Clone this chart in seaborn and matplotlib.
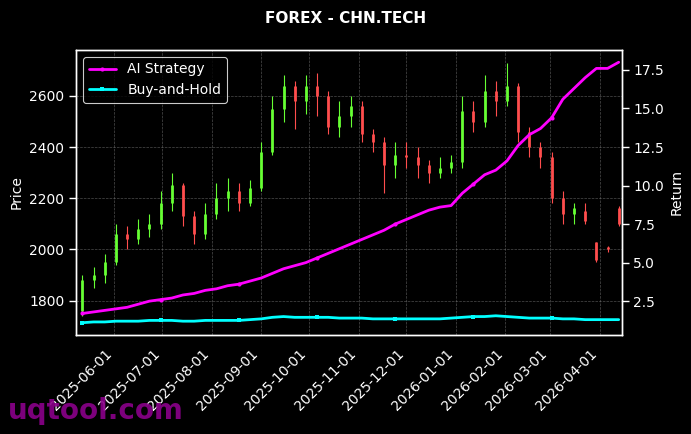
import numpy as np
import pandas as pd
import seaborn as sns
import matplotlib
matplotlib.use("Agg")
import matplotlib.pyplot as plt
import matplotlib.dates as mdates

# weekly OHLC
weeks = pd.date_range("2025-05-12", "2026-04-13", freq="7D")
opens = [1760, 1880, 1900, 1950, 2060, 2040, 2080, 2100, 2180, 2250, 2130, 2060, 2140, 2200, 2230, 2180,
         2240, 2380, 2550, 2640, 2580, 2640, 2600, 2480, 2520, 2560, 2450, 2420, 2330, 2370, 2360, 2330,
         2300, 2320, 2340, 2540, 2500, 2620, 2580, 2640, 2460, 2400, 2360, 2200, 2140, 2150, 2030, 2010, 2160]
closes = [1880, 1900, 1950, 2060, 2040, 2080, 2100, 2180, 2250, 2130, 2060, 2140, 2200, 2230, 2180, 2240,
          2380, 2550, 2640, 2580, 2640, 2600, 2480, 2520, 2560, 2450, 2420, 2330, 2370, 2360, 2330, 2300,
          2320, 2340, 2540, 2500, 2620, 2580, 2640, 2460, 2400, 2360, 2200, 2140, 2160, 2110, 1960, 2000, 2100]
highs = [1900, 1930, 1980, 2100, 2090, 2120, 2140, 2230, 2300, 2260, 2150, 2180, 2260, 2280, 2260, 2270,
         2420, 2600, 2680, 2660, 2680, 2690, 2620, 2580, 2600, 2580, 2470, 2440, 2420, 2420, 2400, 2350,
         2360, 2370, 2600, 2580, 2680, 2660, 2730, 2650, 2480, 2420, 2380, 2230, 2180, 2180, 2030, 2015, 2170]
lows = [1740, 1850, 1870, 1940, 2000, 2020, 2050, 2080, 2150, 2090, 2020, 2040, 2120, 2150, 2150, 2170,
        2230, 2370, 2500, 2470, 2530, 2520, 2450, 2440, 2480, 2420, 2380, 2220, 2280, 2320, 2280, 2260,
        2280, 2300, 2320, 2460, 2480, 2520, 2560, 2420, 2360, 2320, 2180, 2100, 2100, 2100, 1950, 1990, 2090]
ai_return = [1.7, 1.8, 1.9, 2.0, 2.1, 2.3, 2.5, 2.6, 2.7, 2.9, 3.0, 3.2, 3.3, 3.5, 3.6, 3.8, 4.0, 4.3, 4.6,
             4.8, 5.0, 5.3, 5.6, 5.9, 6.2, 6.5, 6.8, 7.1, 7.5, 7.8, 8.1, 8.4, 8.6, 8.7, 9.5, 10.1, 10.7, 11.0,
             11.6, 12.6, 13.3, 13.7, 14.4, 15.6, 16.3, 17.0, 17.6, 17.6, 18.0]
bh_return = [1.1, 1.15, 1.15, 1.2, 1.2, 1.2, 1.25, 1.25, 1.25, 1.2, 1.2, 1.25, 1.25, 1.25, 1.25, 1.3, 1.35,
             1.45, 1.5, 1.45, 1.45, 1.45, 1.45, 1.4, 1.4, 1.4, 1.35, 1.35, 1.35, 1.35, 1.35, 1.35, 1.35, 1.4,
             1.45, 1.5, 1.5, 1.55, 1.5, 1.45, 1.4, 1.4, 1.4, 1.35, 1.35, 1.3, 1.3, 1.3, 1.3]

df = pd.DataFrame({"date": weeks, "open": opens, "close": closes, "high": highs, "low": lows,
                   "ai": ai_return, "bh": bh_return})

sns.set_theme(style="dark", context="paper", font_scale=1.25)
plt.style.use("dark_background")
plt.rcParams['font.family'] = ['DejaVu Sans']
plt.rcParams['font.size'] = 10

fig, ax = plt.subplots(figsize=(6.91, 4.34), dpi=100)
fig.patch.set_facecolor("black")
ax.set_facecolor("black")

for _, r in df.iterrows():
    c = "#66ff33" if r["close"] >= r["open"] else "#ff4d4d"
    ax.vlines(r["date"], r["low"], r["high"], color=c, lw=0.8)
    ax.vlines(r["date"], min(r["open"], r["close"]), max(r["open"], r["close"]), color=c, lw=2)

ax.set_ylabel("Price", color="white", fontsize=10)
ax.grid(True, color="gray", linestyle="--", linewidth=0.5, alpha=0.6)
ax.set_xlim(pd.Timestamp("2025-05-08"), pd.Timestamp("2026-04-15"))
ax.set_ylim(1665, 2780)
ax.xaxis.set_major_locator(mdates.MonthLocator())
ax.xaxis.set_major_formatter(mdates.DateFormatter("%Y-%m-%d"))
ax.tick_params(labelsize=10)
plt.setp(ax.get_xticklabels(), rotation=45, ha="right")

ax2 = ax.twinx()
sns.lineplot(data=df, x="date", y="ai", ax=ax2, color="magenta", lw=2, marker="o", markersize=3,
             markeredgewidth=0, markevery=7, label="AI Strategy")
sns.lineplot(data=df, x="date", y="bh", ax=ax2, color="cyan", lw=2, marker="s", markersize=3,
             markeredgewidth=0, markevery=7, label="Buy-and-Hold")
ax2.set_ylabel("Return", color="white", fontsize=10)
ax2.set_xlabel("")
ax.set_xlabel("")
ax2.set_ylim(0.3, 18.8)
ax2.tick_params(labelsize=10)
ax2.legend(loc="upper left", facecolor="black", edgecolor="white", labelcolor="white", fontsize=10)

for a in (ax, ax2):
    a.tick_params(colors="white")
    for s in a.spines.values():
        s.set_color("white")

fig.suptitle("FOREX - CHN.TECH", color="white", fontweight="bold", fontsize=11, y=0.975)
fig.subplots_adjust(left=0.11, right=0.9, top=0.885, bottom=0.228)
fig.text(0.012, 0.035, "uqtool.com", color="#8b008b", fontsize=20, fontweight="bold", alpha=0.9)
plt.savefig("out.png", dpi=100, facecolor="black")
